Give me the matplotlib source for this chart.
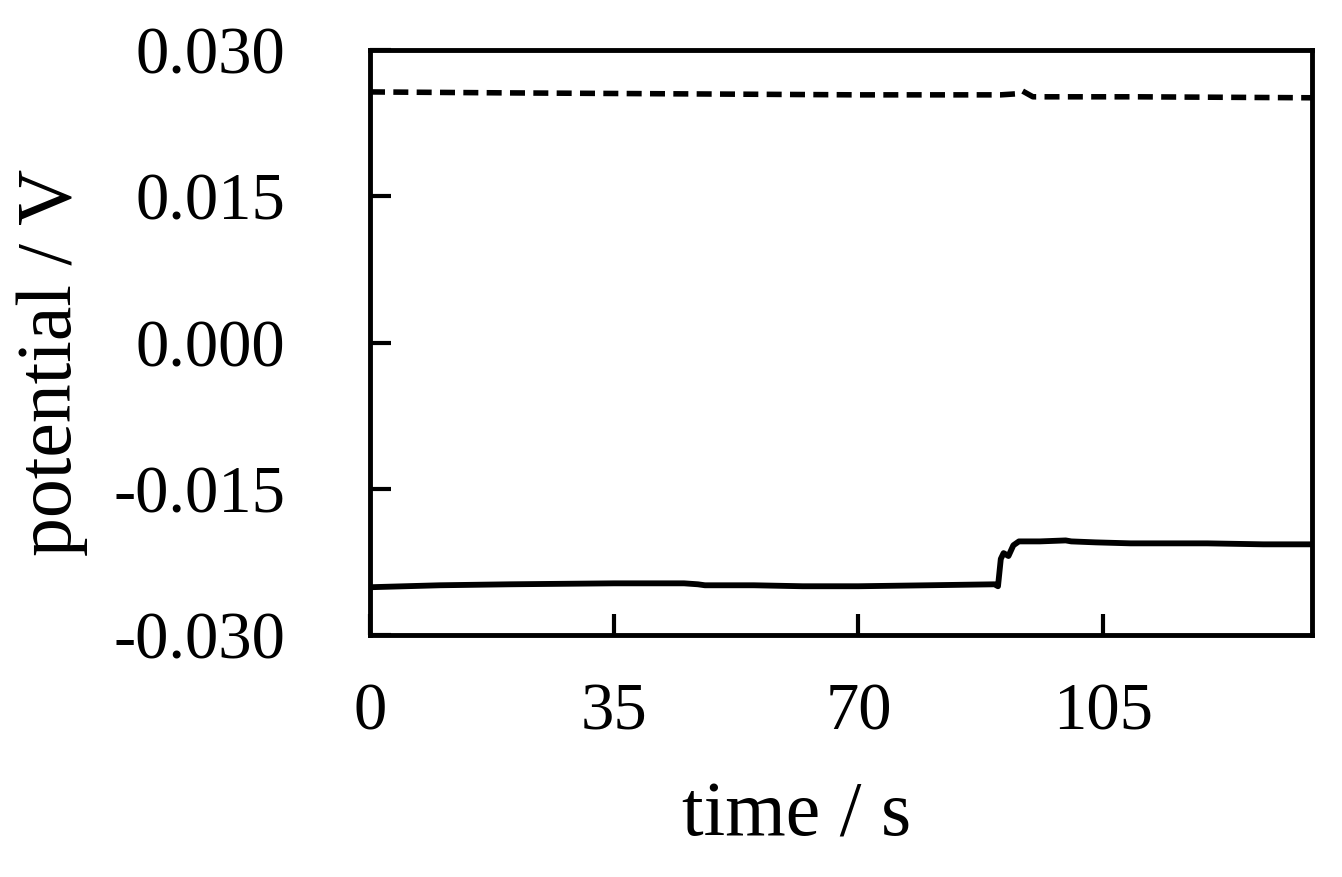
import matplotlib
matplotlib.use("Agg")
import matplotlib.pyplot as plt

# solid trace
t_solid = [0, 10, 20, 35, 45, 47, 48, 55, 62, 70, 80, 89.5, 90.0, 90.4, 90.8, 91.5, 92.2, 93.0, 96, 99.7, 100.5, 104, 109, 120, 128, 135]
v_solid = [-0.0251, -0.0249, -0.0248, -0.0247, -0.0247, -0.0248, -0.0249, -0.0249, -0.0250, -0.0250, -0.0249, -0.0248, -0.0250, -0.0222, -0.0216, -0.0219, -0.0208, -0.0204, -0.0204, -0.0203, -0.0204, -0.0205, -0.0206, -0.0206, -0.0207, -0.0207]

# dashed trace
t_dash = [0, 20, 45, 70, 90.4, 92.5, 93.5, 95, 110, 135]
v_dash = [0.0257, 0.0256, 0.0255, 0.0254, 0.0254, 0.0255, 0.0258, 0.0252, 0.0252, 0.0251]

xticks = [0, 35, 70, 105]
yticks = [-0.030, -0.015, 0.000, 0.015, 0.030]
ytick_labels = ["-0.030", "-0.015", "0.000", "0.015", "0.030"]

plt.rcParams['font.family'] = ['Liberation Serif', 'DejaVu Serif']

fig = plt.figure(figsize=(13.42, 8.77), dpi=100)
ax = fig.add_axes([370/1342, 1-635/877, (1312-370)/1342, (635-50)/877])

ax.plot(t_solid, v_solid, color='black', lw=4.2)
ax.plot(t_dash, v_dash, color='black', lw=4.0, linestyle=(0, (2.7, 1.5)))

ax.set_xlim(0, 135)
ax.set_ylim(-0.030, 0.030)
ax.set_xticks(xticks)
ax.set_xticklabels([str(x) for x in xticks])
ax.set_yticks(yticks)
ax.set_yticklabels(ytick_labels)

for s in ax.spines.values():
    s.set_linewidth(3.5)
ax.tick_params(direction='in', length=15, width=3, labelsize=48)
ax.tick_params(axis='y', pad=61)
ax.tick_params(axis='x', pad=34)

fig.text(797/1342, 1-817/877, "time / s", fontsize=56, ha='center', va='center')
fig.text(52/1342, 1-362/877, "potential / V", fontsize=56, ha='center', va='center', rotation=90)

fig.savefig("out.png", dpi=100)
